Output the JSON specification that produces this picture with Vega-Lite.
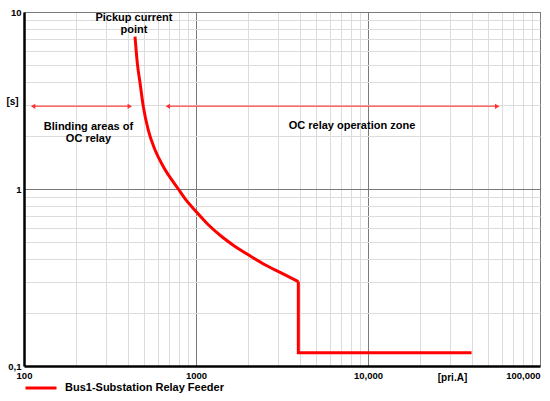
{
  "$schema": "https://vega.github.io/schema/vega-lite/v6.json",
  "width": 516,
  "height": 354,
  "autosize": "none",
  "padding": {"left": 24, "top": 12, "right": 10, "bottom": 35},
  "background": "white",
  "config": {
    "font": "Liberation Sans",
    "view": {"stroke": "#555555", "strokeWidth": 1},
    "axis": {"labelFont": "Liberation Sans", "labelFontWeight": "bold", "labelFontSize": 9.5, "labelColor": "black",
             "titleFont": "Liberation Sans", "titleFontWeight": "bold", "titleFontSize": 10, "titleColor": "black"}
  },
  "encoding": {
    "x": {
      "field": "current",
      "type": "quantitative",
      "scale": {"type": "log", "domain": [100, 100000], "nice": false},
      "axis": {
        "values": [100, 200, 300, 400, 500, 600, 700, 800, 900, 1000, 2000, 3000, 4000, 5000, 6000, 7000, 8000, 9000, 10000, 20000, 30000, 40000, 50000, 60000, 70000, 80000, 90000, 100000],
        "labelExpr": "datum.value == 100 ? '100' : datum.value == 1000 ? '1000' : datum.value == 10000 ? '10,000' : datum.value == 100000 ? '100,000' : ''",
        "labelAlign": {"condition": {"test": "datum.value == 100000", "value": "right"}, "value": "center"},
        "labelOverlap": false,
        "labelBound": false,
        "labelFlush": false,
        "labelPadding": 4,
        "ticks": false,
        "domainColor": "black",
        "domainWidth": 2.5,
        "grid": true,
        "gridColor": {"condition": {"test": "datum.value == 1000 || datum.value == 10000 || datum.value == 100000", "value": "#7a7a7a"}, "value": "#dcdcdc"},
        "title": "[pri.A]",
        "titleX": 428,
        "titleY": 11,
        "titleAlign": "center",
        "titleBaseline": "middle"
      }
    },
    "y": {
      "field": "time",
      "type": "quantitative",
      "scale": {"type": "log", "domain": [0.1, 10], "nice": false},
      "axis": {
        "values": [0.1, 0.2, 0.3, 0.4, 0.5, 0.6, 0.7, 0.8, 0.9, 1, 2, 3, 4, 5, 6, 7, 8, 9, 10],
        "labelExpr": "datum.value == 10 ? '10' : datum.value == 1 ? '1' : datum.value == 0.1 ? '0,1' : ''",
        "labelOverlap": false,
        "labelBound": false,
        "labelFlush": false,
        "labelPadding": 3,
        "ticks": false,
        "domainColor": "black",
        "domainWidth": 2.5,
        "grid": true,
        "gridColor": {"condition": {"test": "datum.value == 1 || datum.value == 10", "value": "#7a7a7a"}, "value": "#dcdcdc"},
        "title": "[s]",
        "titleAngle": 0,
        "titleX": -12,
        "titleY": 89,
        "titleAlign": "center",
        "titleBaseline": "middle"
      }
    }
  },
  "layer": [
    {
      "data": {"values": [
        {"current": 113, "current2": 412, "time": 2.93},
        {"current": 686, "current2": 56400, "time": 2.93}
      ]},
      "mark": {"type": "rule", "color": "#ff4d4d", "opacity": 0.85, "strokeWidth": 1.5},
      "encoding": {"x2": {"field": "current2"}}
    },
    {
      "data": {"values": [
        {"current": 113, "time": 2.93, "dir": "left"},
        {"current": 412, "time": 2.93, "dir": "right"},
        {"current": 686, "time": 2.93, "dir": "left"},
        {"current": 56400, "time": 2.93, "dir": "right"}
      ]},
      "mark": {"type": "point", "filled": true, "color": "#ff3030", "size": 26, "opacity": 1},
      "encoding": {
        "shape": {"field": "dir", "type": "nominal", "scale": {"domain": ["left", "right"], "range": ["triangle-left", "triangle-right"]}, "legend": null}
      }
    },
    {
      "data": {"values": [
        {"current": 442, "time": 7.25, "series": "Bus1-Substation Relay Feeder"},
        {"current": 456, "time": 5.13, "series": "Bus1-Substation Relay Feeder"},
        {"current": 473, "time": 3.96, "series": "Bus1-Substation Relay Feeder"},
        {"current": 494, "time": 2.92, "series": "Bus1-Substation Relay Feeder"},
        {"current": 528, "time": 2.15, "series": "Bus1-Substation Relay Feeder"},
        {"current": 578, "time": 1.66, "series": "Bus1-Substation Relay Feeder"},
        {"current": 645, "time": 1.34, "series": "Bus1-Substation Relay Feeder"},
        {"current": 789, "time": 1.0, "series": "Bus1-Substation Relay Feeder"},
        {"current": 863, "time": 0.882, "series": "Bus1-Substation Relay Feeder"},
        {"current": 1000, "time": 0.747, "series": "Bus1-Substation Relay Feeder"},
        {"current": 1179, "time": 0.628, "series": "Bus1-Substation Relay Feeder"},
        {"current": 1409, "time": 0.539, "series": "Bus1-Substation Relay Feeder"},
        {"current": 1686, "time": 0.474, "series": "Bus1-Substation Relay Feeder"},
        {"current": 2014, "time": 0.425, "series": "Bus1-Substation Relay Feeder"},
        {"current": 2517, "time": 0.373, "series": "Bus1-Substation Relay Feeder"},
        {"current": 3147, "time": 0.335, "series": "Bus1-Substation Relay Feeder"},
        {"current": 3935, "time": 0.30, "series": "Bus1-Substation Relay Feeder"}
      ]},
      "mark": {"type": "line", "strokeWidth": 3, "interpolate": "monotone"},
      "encoding": {
        "color": {
          "field": "series",
          "type": "nominal",
          "scale": {"domain": ["Bus1-Substation Relay Feeder"], "range": ["#ff0000"]},
          "legend": {
            "orient": "none",
            "legendX": 0,
            "legendY": 359,
            "title": null,
            "symbolType": "stroke",
            "symbolStrokeWidth": 3,
            "symbolSize": 961,
            "labelFont": "Liberation Sans",
            "labelFontWeight": "bold",
            "labelFontSize": 11,
            "labelColor": "black",
            "labelOffset": 7,
            "padding": 0
          }
        }
      }
    },
    {
      "data": {"values": [
        {"i": 1, "current": 3935, "time": 0.30, "series": "Bus1-Substation Relay Feeder"},
        {"i": 2, "current": 3935, "time": 0.119, "series": "Bus1-Substation Relay Feeder"},
        {"i": 3, "current": 40000, "time": 0.119, "series": "Bus1-Substation Relay Feeder"}
      ]},
      "mark": {"type": "line", "strokeWidth": 3, "strokeJoin": "miter"},
      "encoding": {
        "order": {"field": "i", "type": "quantitative"},
        "color": {"field": "series", "type": "nominal"}
      }
    },
    {
      "data": {"values": [
        {"current": 436, "time": 9.25, "label": "Pickup current"},
        {"current": 436, "time": 7.9, "label": "point"},
        {"current": 237, "time": 2.25, "label": "Blinding areas of"},
        {"current": 237, "time": 1.91, "label": "OC relay"},
        {"current": 8070, "time": 2.27, "label": "OC relay operation zone"}
      ]},
      "mark": {"type": "text", "font": "Liberation Sans", "fontWeight": "bold", "fontSize": 11, "color": "black", "align": "center", "baseline": "middle"},
      "encoding": {"text": {"field": "label"}}
    }
  ]
}
